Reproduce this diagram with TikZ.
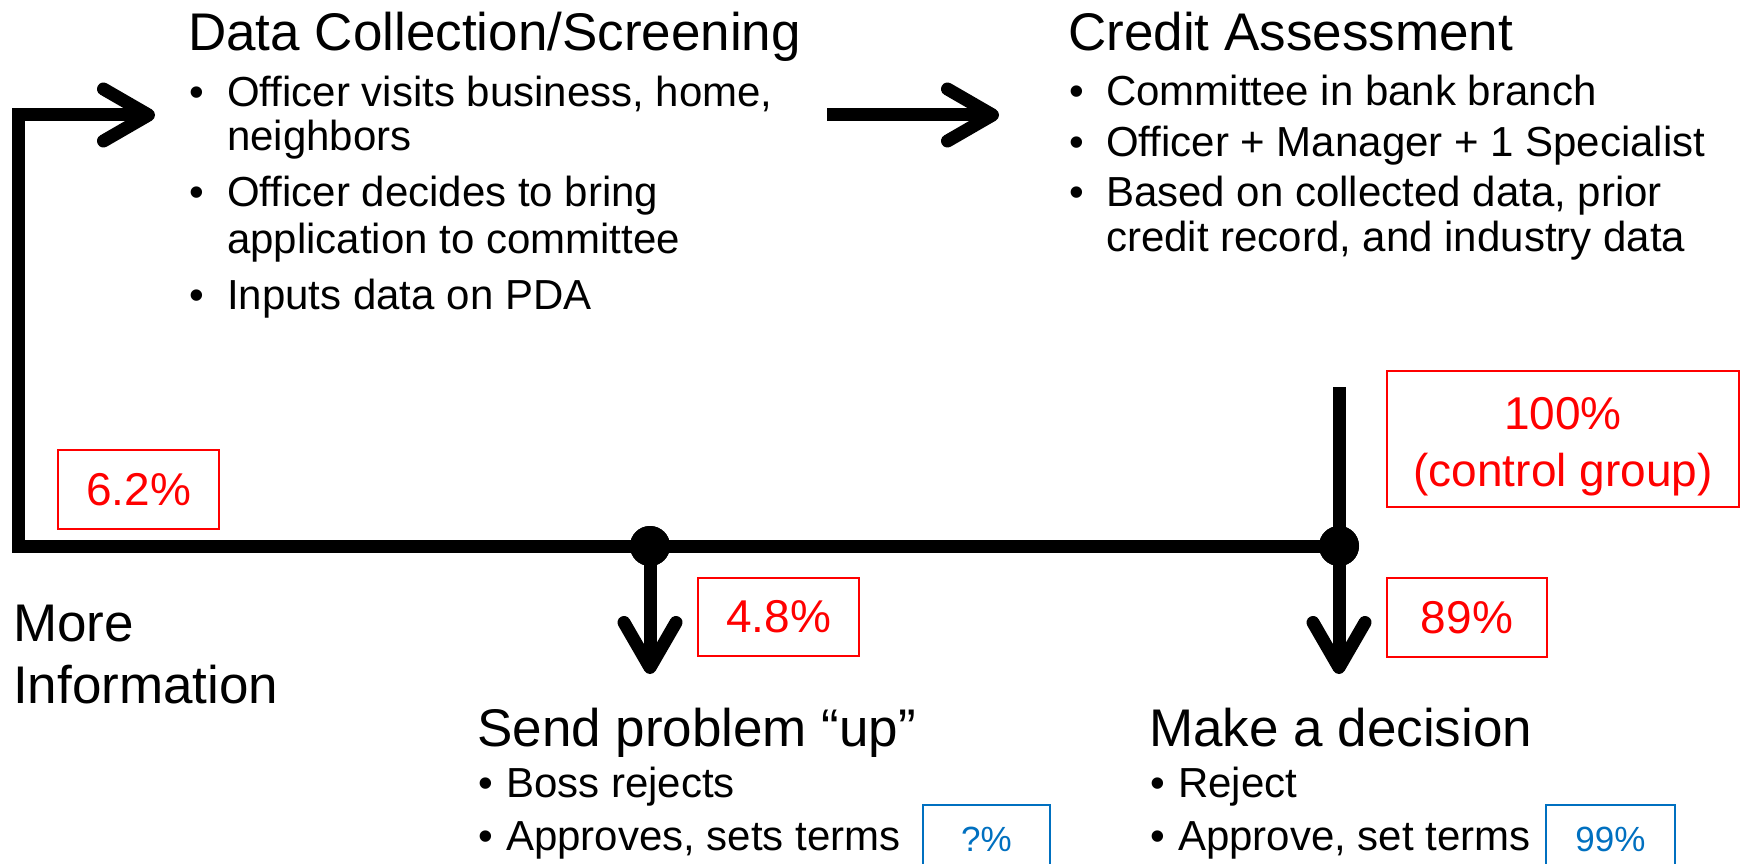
\documentclass[tikz,border=0pt]{standalone}
\usepackage{fontspec}
\setmainfont{Liberation Sans}
\usetikzlibrary{arrows.meta}
\definecolor{pctred}{RGB}{255,0,0}
\definecolor{pctblue}{RGB}{0,112,192}
\begin{document}
\begin{tikzpicture}[x=1pt,y=-1pt,
 title/.style={font=\fontsize{53}{60}\selectfont, anchor=base west, inner sep=0pt},
 item/.style={font=\fontsize{42}{46}\selectfont, anchor=base west, inner sep=0pt},
 flow/.style={line width=13pt, line join=miter},
 tip/.style={-{Straight Barb[length=45pt,width=52pt,round]}},
 dot/.style={circle, fill=black, minimum size=40pt, inner sep=0pt},
 redbox/.style={draw=pctred, text=pctred, line width=2pt, font=\fontsize{46}{57}\selectfont, align=center, inner sep=0pt},
 bluebox/.style={draw=pctblue, text=pctblue, line width=2pt, font=\fontsize{35}{40}\selectfont, inner sep=0pt, anchor=north, text height=46pt, text depth=34pt}
]
\useasboundingbox (0,0) rectangle (1743,864);
\fill[white] (0,0) rectangle (1743,864);

% text blocks
\node[title] (dc) at (188,51) {Data Collection/Screening};
\node[item] (dc1) at (189,107) {\makebox[38pt][l]{•}Officer visits business, home,};
\node[item] (dc1b) at (227,151) {neighbors};
\node[item] (dc2) at (189,206) {\makebox[38pt][l]{•}Officer decides to bring};
\node[item] (dc2b) at (227,253) {application to committee};
\node[item] (dc3) at (189,309) {\makebox[38pt][l]{•}Inputs data on PDA};

\node[title] (ca) at (1068,51) {Credit Assessment};
\node[item] (ca1) at (1069,106) {\makebox[37pt][l]{•}Committee in bank branch};
\node[item] (ca2) at (1069,157) {\makebox[37pt][l]{•}Officer + Manager + 1 Specialist};
\node[item] (ca3) at (1069,206) {\makebox[37pt][l]{•}Based on collected data, prior};
\node[item] (ca3b) at (1106,251) {credit record, and industry data};

\node[title] (sp) at (477,746) {Send problem “up”};
\node[item] (sp1) at (478,797) {\makebox[28pt][l]{•}Boss rejects};
\node[item] (sp2) at (478,850) {\makebox[28pt][l]{•}Approves, sets terms};

\node[title] (md) at (1149,746) {Make a decision};
\node[item] (md1) at (1150,797) {\makebox[28pt][l]{•}Reject};
\node[item] (md2) at (1150,850) {\makebox[28pt][l]{•}Approve, set terms};

\node[title] (mi1) at (13,641) {More};
\node[title] (mi2) at (13,703) {Information};

% percentage boxes
\node[redbox, minimum width=161pt, minimum height=79pt] (b62) at (138.5,489.5) {6.2\%};
\node[redbox, minimum width=161pt, minimum height=78pt] (b48) at (778.5,617) {4.8\%};
\node[redbox, minimum width=352pt, minimum height=136pt] (b100) at (1563,439) {\rule{0pt}{47pt}100\%\\(control group)};
\node[redbox, minimum width=160pt, minimum height=79pt] (b89) at (1467,617.5) {89\%};
\node[bluebox, minimum width=127pt] (bq) at (986.5,804) {?\%};
\node[bluebox, minimum width=129pt] (b99) at (1610.5,804) {99\%};

% junctions and free ends
\node[dot] (d1) at (650,546) {};
\node[dot] (d2) at (1339,546) {};
\coordinate (c2) at (18,546);
\coordinate (c1) at (18,115);
\coordinate (t1) at (155,115);
\coordinate (vtop) at (1339,387);
\coordinate (e1) at (650,674);
\coordinate (e2) at (1339,674);
\coordinate (ra) at (827,115);
\coordinate (rb) at (999,115);

% connectors
\draw[flow, tip] (d2.center) -- (c2) -- (c1) -- (t1);
\draw[flow] (vtop) -- (d2.center);
\draw[flow, tip] (d2.center) -- (e2);
\draw[flow, tip] (d1.center) -- (e1);
\draw[flow, tip] (ra) -- (rb);
\fill (d1) circle (20pt);
\fill (d2) circle (20pt);
\end{tikzpicture}
\end{document}
